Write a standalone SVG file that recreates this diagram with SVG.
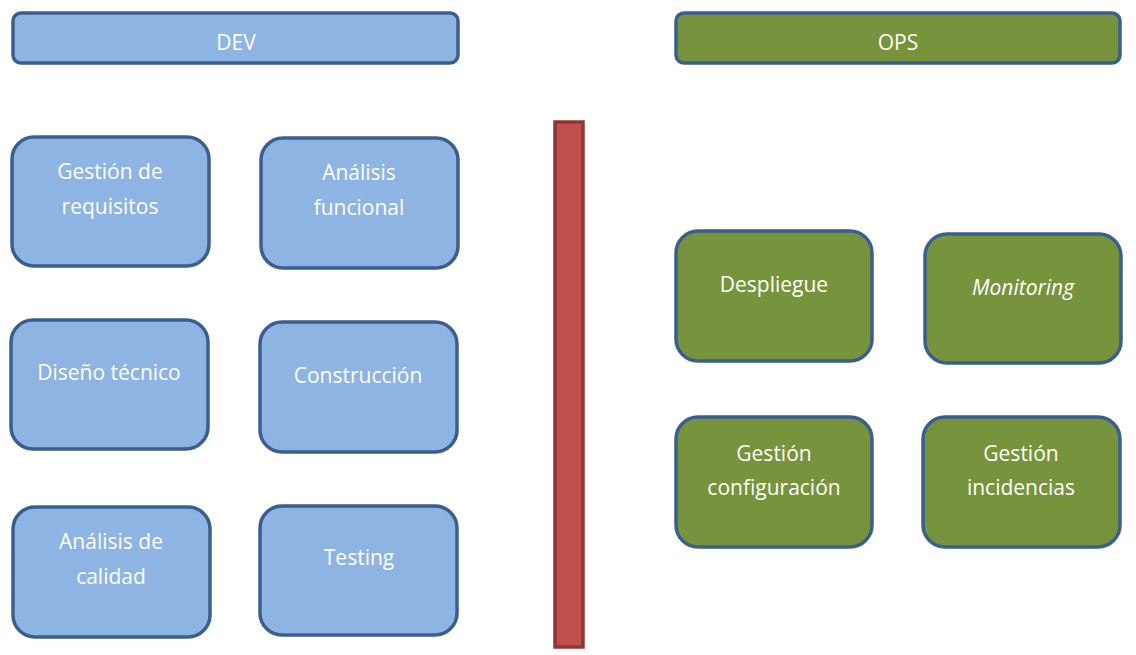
<svg xmlns="http://www.w3.org/2000/svg" width="1136" height="655" viewBox="0 0 1136 655">
<style>
.dev{fill:#8eb4e3;stroke:#3a5f8f;stroke-width:3.5}
.ops{fill:#77933c;stroke:#3a5f8f;stroke-width:3.5}
.sep{fill:#c0504d;stroke:#8c3836;stroke-width:3.5}
text{font-family:"Open Sans","Liberation Sans",sans-serif;font-size:21px;fill:#ffffff;text-anchor:middle}
.it{font-style:italic}
</style>
<rect width="1136" height="655" fill="#ffffff"/>
<g id="dev-header"><rect class="dev" x="13" y="13" width="445" height="50" rx="8"/><text x="236" y="50">DEV</text></g>
<g id="ops-header"><rect class="ops" x="676" y="13" width="444" height="50" rx="8"/><text x="898" y="50">OPS</text></g>
<g id="separator"><rect class="sep" x="555" y="122" width="28" height="525"/></g>
<g id="gestion-requisitos"><rect class="dev" x="12" y="137" width="197" height="129" rx="22"/><text x="110" y="179">Gestión de</text><text x="110" y="214">requisitos</text></g>
<g id="analisis-funcional"><rect class="dev" x="261" y="138" width="197" height="130" rx="22"/><text x="359" y="180">Análisis</text><text x="359" y="215">funcional</text></g>
<g id="diseno-tecnico"><rect class="dev" x="11" y="320" width="197" height="129" rx="22"/><text x="109" y="380">Diseño técnico</text></g>
<g id="construccion"><rect class="dev" x="260" y="322" width="197" height="130" rx="22"/><text x="358" y="383">Construcción</text></g>
<g id="analisis-calidad"><rect class="dev" x="13" y="507" width="197" height="130" rx="22"/><text x="111" y="549">Análisis de</text><text x="111" y="584">calidad</text></g>
<g id="testing"><rect class="dev" x="260" y="506" width="197" height="129" rx="22"/><text x="359" y="565">Testing</text></g>
<g id="despliegue"><rect class="ops" x="676" y="231" width="196" height="130" rx="22"/><text x="774" y="292">Despliegue</text></g>
<g id="monitoring"><rect class="ops" x="925" y="234" width="196" height="129" rx="22"/><text class="it" x="1023" y="295">Monitoring</text></g>
<g id="gestion-configuracion"><rect class="ops" x="676" y="417" width="196" height="130" rx="22"/><text x="774" y="461">Gestión</text><text x="774" y="495">configuración</text></g>
<g id="gestion-incidencias"><rect class="ops" x="923" y="417" width="197" height="130" rx="22"/><text x="1021" y="461">Gestión</text><text x="1021" y="495">incidencias</text></g>
<g id="connectors"></g>
</svg>
